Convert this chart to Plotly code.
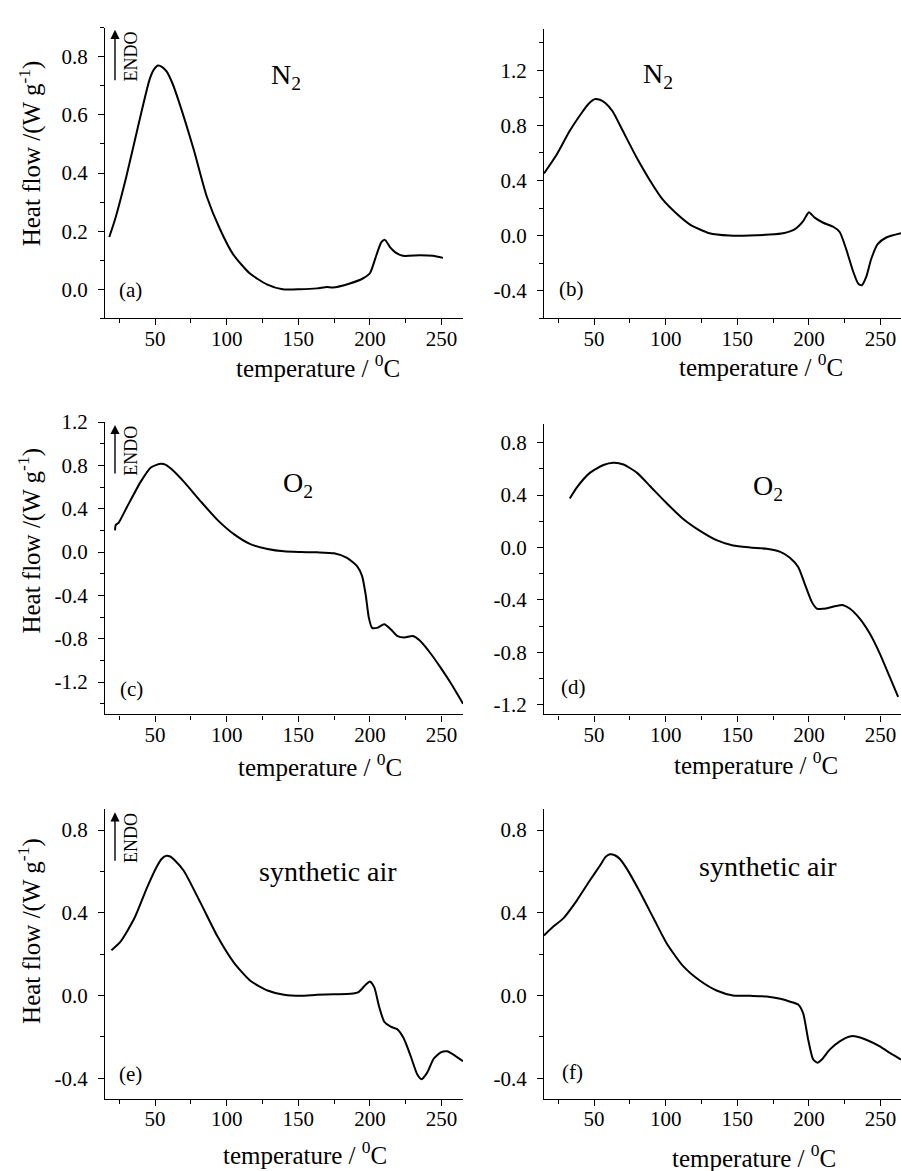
import numpy as np
import plotly.graph_objects as go

W, H = 901, 1171
FONT = "Liberation Serif"

# ---- DSC traces: temperature (degC) and heat flow (W/g) ----
a_temp = [18, 22, 30, 39, 46, 49, 52, 55, 58, 62, 67, 77, 86, 95, 104.5, 116, 128, 139, 151, 163,
          170, 174, 186, 195, 200, 204.5, 208, 210.5, 214, 217.5, 223, 235, 244, 251]
a_flow = [0.18, 0.24, 0.39, 0.58, 0.72, 0.755, 0.77, 0.765, 0.75, 0.71, 0.64, 0.48, 0.32, 0.21,
          0.12, 0.055, 0.017, 0.0, 0.0, 0.003, 0.008, 0.006, 0.02, 0.037, 0.055, 0.117, 0.162,
          0.17, 0.145, 0.128, 0.115, 0.117, 0.115, 0.108]

b_temp = [15, 24, 33, 42, 46, 50.5, 54, 58, 63, 70, 79.5, 89, 98, 107.5, 117, 130.5, 144.5, 158.5,
          172.5, 182, 190, 196, 200, 204, 210, 217, 221.5, 226, 231, 234.5, 237, 240, 243.5, 248,
          254, 264.3]
b_flow = [0.45, 0.59, 0.76, 0.90, 0.955, 0.99, 0.985, 0.96, 0.90, 0.76, 0.57, 0.40, 0.26, 0.16,
          0.08, 0.017, 0.0, 0.0, 0.007, 0.017, 0.045, 0.105, 0.17, 0.13, 0.093, 0.064, 0.026,
          -0.098, -0.264, -0.35, -0.36, -0.30, -0.17, -0.062, -0.014, 0.017]

c_temp = [22, 22.5, 24.5, 30.5, 40, 47, 51, 54, 57.5, 61, 70, 82, 93.5, 105, 116.5, 128.5, 140,
          151.5, 163, 175, 184, 191, 194.5, 197, 199.3, 201.5, 205, 210, 214.5, 219, 224, 230,
          235, 242, 249, 256, 265]
c_flow = [0.2, 0.25, 0.27, 0.42, 0.65, 0.78, 0.805, 0.814, 0.805, 0.77, 0.65, 0.465, 0.297, 0.165,
          0.073, 0.028, 0.006, 0.0, -0.003, -0.012, -0.055, -0.13, -0.22, -0.39, -0.61, -0.70,
          -0.70, -0.667, -0.713, -0.774, -0.79, -0.775, -0.82, -0.93, -1.06, -1.20, -1.40]

d_temp = [33, 38, 47, 56.5, 63.5, 70.5, 80, 89, 100.5, 112, 124, 135.5, 147, 159, 170.5, 180,
          186.5, 192.5, 197, 202, 205.5, 212, 219, 224, 228.5, 235.5, 242.5, 249.5, 256.5, 262.3]
d_flow = [0.375, 0.46, 0.57, 0.63, 0.647, 0.634, 0.57, 0.47, 0.34, 0.22, 0.127, 0.056, 0.015, 0.0,
          -0.01, -0.033, -0.076, -0.148, -0.275, -0.415, -0.466, -0.466, -0.446, -0.44, -0.466,
          -0.543, -0.657, -0.81, -0.99, -1.14]

e_temp = [19.5, 26, 35.5, 44.5, 51.5, 54.5, 57.5, 60.5, 63.5, 70, 82, 93.5, 105, 116.5, 128.5,
          140, 151.5, 163, 175, 186.5, 192, 197, 200, 203, 206.5, 210, 214.5, 219, 223.5, 228.5,
          233, 236, 240, 244.5, 249.5, 254, 258, 265]
e_flow = [0.219, 0.262, 0.373, 0.524, 0.627, 0.66, 0.675, 0.672, 0.655, 0.603, 0.444, 0.286,
          0.159, 0.071, 0.024, 0.003, -0.002, 0.003, 0.006, 0.008, 0.016, 0.052, 0.068, 0.04,
          -0.056, -0.127, -0.151, -0.163, -0.206, -0.294, -0.381, -0.405, -0.373, -0.306, -0.275,
          -0.27, -0.285, -0.318]

f_temp = [15, 21.5, 28.5, 38, 47, 54, 58, 61, 64.5, 68, 73, 82, 91.5, 100.5, 112, 124, 135.5, 147,
          159, 170.5, 180, 186.5, 192.5, 196, 199.5, 203, 206, 209, 214.5, 221.5, 228.5, 233,
          240, 249.5, 256.5, 264.3]
f_flow = [0.29, 0.333, 0.373, 0.46, 0.556, 0.627, 0.67, 0.683, 0.678, 0.66, 0.611, 0.5, 0.373,
          0.254, 0.143, 0.071, 0.024, 0.0, -0.002, -0.005, -0.016, -0.029, -0.044, -0.087,
          -0.214, -0.31, -0.325, -0.31, -0.262, -0.222, -0.198, -0.198, -0.214, -0.246, -0.278,
          -0.31]

# ---- tick labels ----
x_ticks = [50, 100, 150, 200, 250]
x_labels = ["50", "100", "150", "200", "250"]
ya_ticks = [0.0, 0.2, 0.4, 0.6, 0.8]
ya_labels = ["0.0", "0.2", "0.4", "0.6", "0.8"]
yb_ticks = [-0.4, 0.0, 0.4, 0.8, 1.2]
yb_labels = ["-0.4", "0.0", "0.4", "0.8", "1.2"]
yc_ticks = [-1.2, -0.8, -0.4, 0.0, 0.4, 0.8, 1.2]
yc_labels = ["-1.2", "-0.8", "-0.4", "0.0", "0.4", "0.8", "1.2"]
yd_ticks = [-1.2, -0.8, -0.4, 0.0, 0.4, 0.8]
yd_labels = ["-1.2", "-0.8", "-0.4", "0.0", "0.4", "0.8"]
ye_ticks = [-0.4, 0.0, 0.4, 0.8]
ye_labels = ["-0.4", "0.0", "0.4", "0.8"]

panel_letters = ["(a)", "(b)", "(c)", "(d)", "(e)", "(f)"]
atmospheres = ["N<sub>2</sub>", "N<sub>2</sub>", "O<sub>2</sub>", "O<sub>2</sub>",
               "synthetic air", "synthetic air"]
x_title = "temperature / <sup>0</sup>C"
y_title = "Heat flow /(W g<sup>-1</sup>)"


def fx(x):
    return x / W


def fy(y):
    return 1 - y / H


# panel boxes in pixels: (left, right, top, bottom), x range, y range, y ticks, minor y step
panels = [
    dict(box=(105, 463, 16, 310), xr=(15, 265), yr=(-0.1, 0.9), yt=ya_ticks, yl=ya_labels, ym=0.1,
         t=a_temp, v=a_flow),
    dict(box=(544, 901, 17, 310), xr=(15, 264.3), yr=(-0.6, 1.5), yt=yb_ticks, yl=yb_labels, ym=0.2,
         t=b_temp, v=b_flow),
    dict(box=(105, 463, 415, 711), xr=(15, 265), yr=(-1.5, 1.2), yt=yc_ticks, yl=yc_labels, ym=0.2,
         t=c_temp, v=c_flow),
    dict(box=(544, 901, 417, 711), xr=(15, 264.3), yr=(-1.275, 0.943), yt=yd_ticks, yl=yd_labels,
         ym=0.2, t=d_temp, v=d_flow),
    dict(box=(105, 463, 807, 1100), xr=(15, 265), yr=(-0.5, 0.9), yt=ye_ticks, yl=ye_labels, ym=0.2,
         t=e_temp, v=e_flow),
    dict(box=(544, 901, 807, 1100), xr=(15, 264.3), yr=(-0.5, 0.9), yt=ye_ticks, yl=ye_labels,
         ym=0.2, t=f_temp, v=f_flow),
]

fig = go.Figure()
layout = dict(
    width=W, height=H, margin=dict(l=0, r=0, t=0, b=0),
    paper_bgcolor="white", plot_bgcolor="white", showlegend=False,
    font=dict(family=FONT, color="black", size=21),
)

tick_font = dict(family=FONT, size=21, color="black")

for i, p in enumerate(panels):
    n = "" if i == 0 else str(i + 1)
    x0, x1, y0, y1 = p["box"]
    fig.add_trace(go.Scatter(
        x=p["t"], y=p["v"], mode="lines", xaxis="x" + n, yaxis="y" + n,
        line=dict(color="black", width=2, shape="spline", smoothing=0.6),
        hoverinfo="skip",
    ))
    minor_x = list(np.arange(25, p["xr"][1], 50))
    lo = np.ceil(p["yr"][0] / p["ym"] - 1e-6) * p["ym"]
    minor_y = [round(v, 3) for v in np.arange(lo, p["yr"][1] + 1e-9, p["ym"])]
    layout["xaxis" + n] = dict(
        domain=[fx(x0), fx(x1)], range=list(p["xr"]), anchor="y" + n,
        showline=True, linecolor="black", linewidth=1.3, showgrid=False, zeroline=False,
        tickmode="array", tickvals=x_ticks, ticktext=x_labels,
        ticks="outside", ticklen=6, tickwidth=1.2, tickcolor="black",
        ticklabelstandoff=-5, tickfont=tick_font,
        minor=dict(tickmode="array", tickvals=minor_x, ticks="outside", ticklen=4,
                   tickwidth=1.2, tickcolor="black", showgrid=False),
    )
    layout["yaxis" + n] = dict(
        domain=[fy(y1), fy(y0)], range=list(p["yr"]), anchor="x" + n,
        showline=True, linecolor="black", linewidth=1.3, showgrid=False, zeroline=False,
        tickmode="array", tickvals=p["yt"], ticktext=p["yl"],
        ticks="outside", ticklen=6, tickwidth=1.2, tickcolor="black",
        ticklabelstandoff=6, tickfont=tick_font,
        minor=dict(tickmode="array", tickvals=minor_y, ticks="outside", ticklen=4,
                   tickwidth=1.2, tickcolor="black", showgrid=False),
    )

annotations = []


def label(text, x, y, size, **kw):
    annotations.append(dict(text=text, x=fx(x), y=fy(y), xref="paper", yref="paper",
                            showarrow=False, xanchor="center", yanchor="middle",
                            font=dict(family=FONT, size=size, color="black"), **kw))


# panel letters
for txt, (x, y) in zip(panel_letters, [(130, 281), (571, 280), (131, 685), (573, 683),
                                       (130, 1075), (572, 1073)]):
    label(txt, x, y, 21)

# atmosphere labels
for txt, (x, y) in zip(atmospheres, [(286, 65), (658, 64), (298, 478), (768, 481),
                                     (328, 870), (768, 865)]):
    label(txt, x, y, 28)

# x-axis titles
for x, y in [(318, 358), (761, 357), (320, 762), (756, 760), (305, 1155), (754, 1158)]:
    label(x_title, x, y, 25)

# y-axis titles on the left column
for y in [143, 535, 930]:
    label(y_title, 30, y, 25, textangle=-90)

# endothermic direction markers
for top, bottom in [(18, 70), (418, 468), (810, 860)]:
    annotations.append(dict(x=fx(115), y=fy(top), xref="paper", yref="paper", text="",
                            showarrow=True, ax=0, ay=bottom - top, axref="pixel", ayref="pixel",
                            arrowhead=2, arrowsize=1.3, arrowwidth=1.4, arrowcolor="black"))
    label("ENDO", 131, (top + bottom) / 2 + 1, 18, textangle=-90)

layout["annotations"] = annotations
fig.update_layout(**layout)
fig.write_html("out.html")
